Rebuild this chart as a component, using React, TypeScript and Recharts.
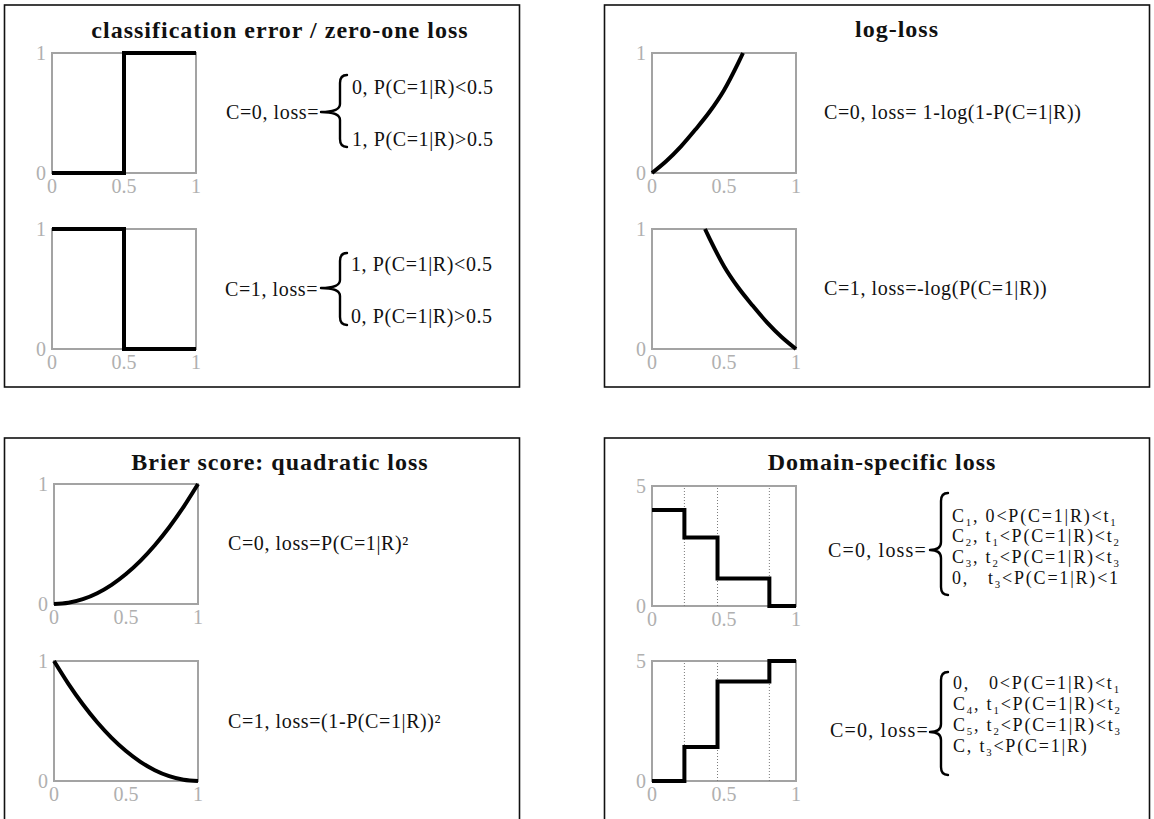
import React from 'react';
import { LineChart, Line, XAxis, YAxis, ReferenceArea, ReferenceLine } from 'recharts';

// ---------- data ----------
const probTicks = [0, 0.5, 1];
const unitTicks = [0, 1];
const domainTicks = [0, 5];
const thresholds = [0.225, 0.455, 0.815];

const zeroOneP = [0, 0.5, 1];
const zeroOneC0 = [0, 1, 1];
const zeroOneC1 = [1, 0, 0];

const logLossC0P = [0, 0.1, 0.2, 0.3, 0.4, 0.5, 0.6, 0.632];
const logLossC0 = [0, 0.1, 0.22, 0.36, 0.51, 0.69, 0.92, 1.0];
const logLossC1P = [0.368, 0.4, 0.5, 0.6, 0.7, 0.8, 0.9, 1];
const logLossC1 = [1.0, 0.92, 0.69, 0.51, 0.36, 0.22, 0.1, 0];

const brierP = [0, 0.1, 0.2, 0.3, 0.4, 0.5, 0.6, 0.7, 0.8, 0.9, 1];
const brierC0 = [0, 0.01, 0.04, 0.09, 0.16, 0.25, 0.36, 0.49, 0.64, 0.81, 1];
const brierC1 = [1, 0.81, 0.64, 0.49, 0.36, 0.25, 0.16, 0.09, 0.04, 0.01, 0];

const domainP = [0, 0.225, 0.455, 0.815, 1];
const domainC0 = [4, 2.85, 1.15, 0, 0];
const domainC1 = [0, 1.42, 4.15, 5, 5];

const zip = (ps: number[], ls: number[]) => ps.map((p, i) => ({ p, loss: ls[i] }));

// ---------- styles ----------
const SERIF = 'Liberation Serif, Times New Roman, serif';
const TICK_COLOR = '#b0b0b0';

const XTick = (props: any) => {
  const { x, y, payload } = props;
  return (
    <text x={x} y={y} dy="0.72em" textAnchor="middle" fontSize={20} fontFamily={SERIF} fill={TICK_COLOR}>
      {String(payload.value)}
    </text>
  );
};

const YTick = (props: any) => {
  const { x, y, payload } = props;
  return (
    <text x={x} y={y} dy="0.34em" textAnchor="end" fontSize={20} fontFamily={SERIF} fill={TICK_COLOR}>
      {String(payload.value)}
    </text>
  );
};

type PlotProps = {
  left: number;
  top: number;
  data: { p: number; loss: number }[];
  yMax: number;
  yTicks: number[];
  curve: 'stepAfter' | 'monotone';
  dotted?: number[];
};

function MiniPlot({ left, top, data, yMax, yTicks, curve, dotted }: PlotProps) {
  const W = 144, H = 120, ml = 30, mr = 14, mt = 12, mb = 30;
  return (
    <div style={{ position: 'absolute', left: left - ml, top: top - mt }}>
      <LineChart
        width={W + ml + mr}
        height={H + mt + mb}
        data={data}
        margin={{ top: mt, right: mr, left: 0, bottom: 0 }}
      >
        <XAxis
          dataKey="p"
          type="number"
          domain={[0, 1]}
          ticks={probTicks}
          interval={0}
          axisLine={false}
          tickLine={false}
          tickSize={0}
          tickMargin={6}
          height={mb}
          tick={<XTick />}
        />
        <YAxis
          type="number"
          domain={[0, yMax]}
          ticks={yTicks}
          interval={0}
          axisLine={false}
          tickLine={false}
          tickSize={0}
          tickMargin={6}
          width={ml}
          tick={<YTick />}
        />
        <ReferenceArea
          x1={0}
          x2={1}
          y1={0}
          y2={yMax}
          fill="none"
          fillOpacity={0}
          stroke="#a3a3a3"
          strokeWidth={2}
          ifOverflow="visible"
        />
        {dotted &&
          dotted.map((t) => (
            <ReferenceLine key={t} x={t} stroke="#7a7a7a" strokeDasharray="1 2" strokeWidth={1} />
          ))}
        <Line
          dataKey="loss"
          type={curve}
          stroke="#000"
          strokeWidth={4}
          dot={false}
          activeDot={false}
          isAnimationActive={false}
        />
      </LineChart>
    </div>
  );
}

type Seg = [string, '' | 'sub'];

function Rich({ x, y, segs, size = 20, spacing = 0.6 }: { x: number; y: number; segs: Seg[]; size?: number; spacing?: number }) {
  let off = 0;
  return (
    <text
      x={x}
      y={y}
      fontSize={size}
      fontFamily={SERIF}
      fill="#111"
      style={{ whiteSpace: 'pre', letterSpacing: spacing }}
    >
      {segs.map(([t, k], i) => {
        const target = k === 'sub' ? size * 0.2 : 0;
        const dy = target - off;
        off = target;
        return (
          <tspan key={i} dy={dy} fontSize={k === 'sub' ? size * 0.6 : size}>
            {t}
          </tspan>
        );
      })}
    </text>
  );
}

function T({ x, y, s, size = 20, spacing = 0.6 }: { x: number; y: number; s: string; size?: number; spacing?: number }) {
  return <Rich x={x} y={y} segs={[[s, '']]} size={size} spacing={spacing} />;
}

function Brace({ xc, xe, yt, yb, ym }: { xc: number; xe: number; yt: number; yb: number; ym: number }) {
  const xs = xe - 7;
  const d = `M ${xe} ${yt} Q ${xs} ${yt} ${xs} ${yt + 8} L ${xs} ${ym - 8} Q ${xs} ${ym} ${xc} ${ym} Q ${xs} ${ym} ${xs} ${ym + 8} L ${xs} ${yb - 8} Q ${xs} ${yb} ${xe} ${yb}`;
  return <path d={d} fill="none" stroke="#000" strokeWidth={2.4} strokeLinecap="round" strokeLinejoin="round" />;
}

function Title({ x, y, s }: { x: number; y: number; s: string }) {
  return (
    <text x={x} y={y} textAnchor="middle" fontSize={24} fontWeight="bold" fontFamily={SERIF} fill="#111" style={{ letterSpacing: 1 }}>
      {s}
    </text>
  );
}

export default function App() {
  return (
    <div
      style={{
        position: 'absolute',
        left: 0,
        top: 0,
        width: 1154,
        height: 819,
        overflow: 'hidden',
        background: '#fff',
      }}
    >
      {/* panel 1: zero-one */}
      <MiniPlot left={52} top={53} data={zip(zeroOneP, zeroOneC0)} yMax={1} yTicks={unitTicks} curve="stepAfter" />
      <MiniPlot left={52} top={229} data={zip(zeroOneP, zeroOneC1)} yMax={1} yTicks={unitTicks} curve="stepAfter" />
      {/* panel 2: log-loss */}
      <MiniPlot left={652} top={53} data={zip(logLossC0P, logLossC0)} yMax={1} yTicks={unitTicks} curve="monotone" />
      <MiniPlot left={652} top={229} data={zip(logLossC1P, logLossC1)} yMax={1} yTicks={unitTicks} curve="monotone" />
      {/* panel 3: brier */}
      <MiniPlot left={54} top={484} data={zip(brierP, brierC0)} yMax={1} yTicks={unitTicks} curve="monotone" />
      <MiniPlot left={54} top={661} data={zip(brierP, brierC1)} yMax={1} yTicks={unitTicks} curve="monotone" />
      {/* panel 4: domain-specific */}
      <MiniPlot left={652} top={486} data={zip(domainP, domainC0)} yMax={5} yTicks={domainTicks} curve="stepAfter" dotted={thresholds} />
      <MiniPlot left={652} top={661} data={zip(domainP, domainC1)} yMax={5} yTicks={domainTicks} curve="stepAfter" dotted={thresholds} />

      <svg width={1154} height={819} style={{ position: 'absolute', left: 0, top: 0, pointerEvents: 'none' }}>
        {/* panel frames */}
        <rect x={4.5} y={5} width={515} height={382} fill="none" stroke="#111" strokeWidth={1.6} />
        <rect x={604.5} y={5} width={545} height={382} fill="none" stroke="#111" strokeWidth={1.6} />
        <rect x={4.5} y={438} width={515} height={400} fill="none" stroke="#111" strokeWidth={1.6} />
        <rect x={604.5} y={438} width={545} height={400} fill="none" stroke="#111" strokeWidth={1.6} />

        {/* titles */}
        <Title x={280} y={38} s="classification error / zero-one loss" />
        <Title x={897} y={37} s="log-loss" />
        <Title x={280} y={470} s="Brier score: quadratic loss" />
        <Title x={882} y={470} s="Domain-specific loss" />

        {/* panel 1 text */}
        <T x={226} y={119} s="C=0, loss=" />
        <Brace xc={321} xe={347} yt={75} yb={147} ym={112} />
        <T x={352} y={94} s="0, P(C=1|R)<0.5" />
        <T x={352} y={146} s="1, P(C=1|R)>0.5" />

        <T x={225} y={296} s="C=1, loss=" />
        <Brace xc={321} xe={347} yt={253} yb={325} ym={288} />
        <T x={351} y={271} s="1, P(C=1|R)<0.5" />
        <T x={351} y={323} s="0, P(C=1|R)>0.5" />

        {/* panel 2 text */}
        <T x={824} y={119} s="C=0, loss= 1-log(1-P(C=1|R))" />
        <T x={824} y={295} s="C=1, loss=-log(P(C=1|R))" />

        {/* panel 3 text */}
        <T x={228} y={550} s="C=0, loss=P(C=1|R)²" />
        <T x={228} y={728} s="C=1, loss=(1-P(C=1|R))²" />

        {/* panel 4 text */}
        <T x={828} y={557} s="C=0, loss=" size={20} spacing={1.2} />
        <Brace xc={930} xe={948} yt={493} yb={595} ym={550} />
        <Rich x={952} y={522} size={18} spacing={1.8} segs={[['C', ''], ['1', 'sub'], [', 0<P(C=1|R)<t', ''], ['1', 'sub']]} />
        <Rich x={952} y={542} size={18} spacing={1.8} segs={[['C', ''], ['2', 'sub'], [', t', ''], ['1', 'sub'], ['<P(C=1|R)<t', ''], ['2', 'sub']]} />
        <Rich x={952} y={563} size={18} spacing={1.8} segs={[['C', ''], ['3', 'sub'], [', t', ''], ['2', 'sub'], ['<P(C=1|R)<t', ''], ['3', 'sub']]} />
        <Rich x={952} y={584} size={18} spacing={1.8} segs={[['0,   t', ''], ['3', 'sub'], ['<P(C=1|R)<1', '']]} />

        <T x={830} y={737} s="C=0, loss=" size={20} spacing={1.2} />
        <Brace xc={930} xe={948} yt={672} yb={775} ym={732} />
        <Rich x={953} y={689} size={18} spacing={1.8} segs={[['0,   0<P(C=1|R)<t', ''], ['1', 'sub']]} />
        <Rich x={953} y={710} size={18} spacing={1.8} segs={[['C', ''], ['4', 'sub'], [', t', ''], ['1', 'sub'], ['<P(C=1|R)<t', ''], ['2', 'sub']]} />
        <Rich x={953} y={731} size={18} spacing={1.8} segs={[['C', ''], ['5', 'sub'], [', t', ''], ['2', 'sub'], ['<P(C=1|R)<t', ''], ['3', 'sub']]} />
        <Rich x={953} y={752} size={18} spacing={1.8} segs={[['C, t', ''], ['3', 'sub'], ['<P(C=1|R)', '']]} />
      </svg>
    </div>
  );
}
